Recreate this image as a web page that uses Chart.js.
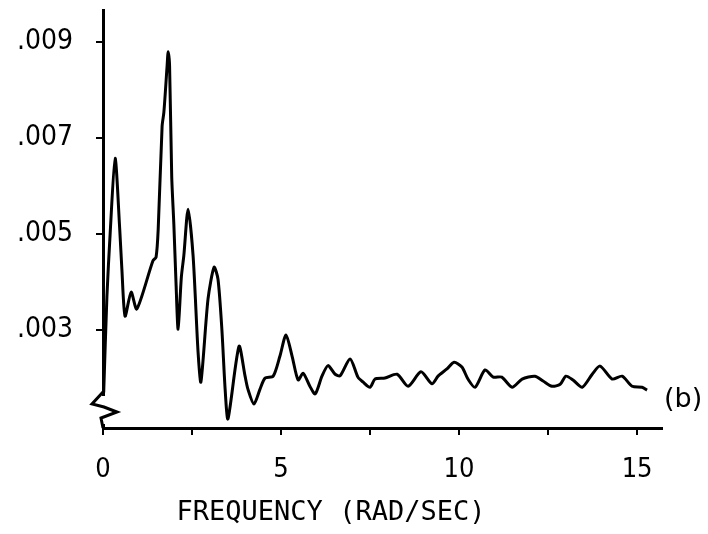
<!DOCTYPE html>
<html><head><meta charset="utf-8">
<script src="https://cdn.jsdelivr.net/npm/chart.js@4.4.0/dist/chart.umd.min.js"></script>
<style>html,body{margin:0;padding:0;background:#fff;}</style>
</head><body>
<canvas id="c" width="708" height="534"></canvas>
<script>
// Frequency (rad/sec) and spectral values
const freq = [0.02,0.11,0.20,0.34,0.47,0.53,0.62,0.79,0.95,1.40,1.49,1.55,1.66,1.71,1.80,1.83,1.87,1.93,1.99,2.05,2.11,2.20,2.27,2.39,2.53,2.67,2.75,2.95,3.12,3.23,3.34,3.43,3.51,3.82,3.99,4.07,4.24,4.41,4.55,4.78,4.97,5.14,5.31,5.48,5.62,5.81,5.96,6.15,6.32,6.52,6.66,6.94,7.16,7.30,7.50,7.64,7.92,8.26,8.57,8.93,9.24,9.41,9.66,9.86,10.08,10.25,10.45,10.73,10.96,11.20,11.49,11.77,12.13,12.36,12.61,12.84,13.00,13.20,13.46,13.74,13.96,14.30,14.58,14.86,15.14,15.28];
const power = [0.00170,0.00370,0.00500,0.00658,0.00510,0.00427,0.00329,0.00379,0.00344,0.00444,0.00452,0.00510,0.00725,0.00754,0.00850,0.00880,0.00850,0.00620,0.00520,0.00400,0.00302,0.00410,0.00455,0.00552,0.00455,0.00254,0.00192,0.00365,0.00431,0.00406,0.00300,0.00177,0.00115,0.00266,0.00204,0.00177,0.00146,0.00177,0.00200,0.00204,0.00246,0.00290,0.00246,0.00196,0.00210,0.00183,0.00167,0.00204,0.00226,0.00208,0.00205,0.00240,0.00202,0.00192,0.00181,0.00198,0.00200,0.00208,0.00183,0.00213,0.00188,0.00204,0.00219,0.00233,0.00223,0.00198,0.00181,0.00217,0.00202,0.00202,0.00181,0.00198,0.00204,0.00194,0.00183,0.00187,0.00204,0.00196,0.00181,0.00208,0.00225,0.00198,0.00204,0.00183,0.00181,0.00175];
const xTickValues = [0, 2.5, 5, 7.5, 10, 12.5, 15];
const xTickLabels = ['0', '', '5', '', '10', '', '15'];
const yTickValues = [0.003, 0.005, 0.007, 0.009];
const yTickLabels = ['.003', '.005', '.007', '.009'];
const axisTitle = 'FREQUENCY (RAD/SEC)';
const curveLabel = '(b)';
const curveLabelValue = 0.00155;

const points = freq.map((f, i) => ({x: f, y: power[i]}));

const decorations = {
  id: 'decorations',
  afterDraw(chart) {
    const ctx = chart.ctx;
    const a = chart.chartArea;
    const ys = chart.scales.y;
    ctx.save();
    // axis break symbol
    ctx.fillStyle = '#fff';
    ctx.fillRect(a.left - 3, a.bottom - 32, 6, 28);
    ctx.strokeStyle = '#000';
    ctx.lineWidth = 3;
    ctx.lineJoin = 'miter';
    ctx.beginPath();
    ctx.moveTo(a.left, a.bottom - 36);
    ctx.lineTo(a.left - 11, a.bottom - 24);
    ctx.lineTo(a.left + 1, a.bottom - 21);
    ctx.lineTo(a.left + 14, a.bottom - 16);
    ctx.lineTo(a.left - 2, a.bottom - 10);
    ctx.lineTo(a.left, a.bottom);
    ctx.stroke();
    // curve label
    ctx.fillStyle = '#000';
    ctx.font = '27px "DejaVu Sans"';
    ctx.textAlign = 'left';
    ctx.textBaseline = 'middle';
    ctx.fillText(curveLabel, a.right + 2, ys.getPixelForValue(curveLabelValue));
    ctx.restore();
  }
};

new Chart(document.getElementById('c'), {
  type: 'line',
  data: {
    datasets: [{
      data: points,
      borderColor: '#000',
      borderWidth: 3,
      pointRadius: 0,
      tension: 0.25,
      fill: false
    }]
  },
  options: {
    responsive: false,
    animation: false,
    devicePixelRatio: 1,
    layout: {padding: {top: 10, right: 46, bottom: 0, left: 0}},
    plugins: {
      legend: {display: false},
      tooltip: {enabled: false},
      title: {
        display: true,
        position: 'bottom',
        text: axisTitle,
        color: '#000',
        font: {family: '"DejaVu Sans Mono"', size: 27, weight: 'normal'},
        padding: {top: 0, bottom: 5}
      }
    },
    scales: {
      x: {
        type: 'linear',
        min: 0,
        max: 15.7,
        afterFit(s) { s.height = 68.6; s.paddingLeft = 0; s.paddingRight = 0; },
        afterBuildTicks(s) { s.ticks = xTickValues.map(v => ({value: v})); },
        border: {display: true, color: '#000', width: 3},
        grid: {drawOnChartArea: false, drawTicks: true, tickLength: 7, color: '#000', lineWidth: 2},
        ticks: {
          color: '#000',
          padding: 19,
          maxRotation: 0,
          autoSkip: false,
          font: {family: '"DejaVu Sans Condensed"', size: 27},
          callback: (v, i) => xTickLabels[i]
        }
      },
      y: {
        type: 'linear',
        min: 0.00096,
        max: 0.00967,
        afterFit(s) { s.width = 103; s.paddingTop = 0; s.paddingBottom = 0; },
        afterBuildTicks(s) { s.ticks = yTickValues.map(v => ({value: v})); },
        border: {display: true, color: '#000', width: 3},
        grid: {drawOnChartArea: false, drawTicks: true, tickLength: 7, color: '#000', lineWidth: 2},
        ticks: {
          color: '#000',
          padding: 23,
          autoSkip: false,
          font: {family: '"DejaVu Sans Condensed"', size: 28},
          callback: (v, i) => yTickLabels[i]
        }
      }
    }
  },
  plugins: [decorations]
});
</script>
</body></html>
